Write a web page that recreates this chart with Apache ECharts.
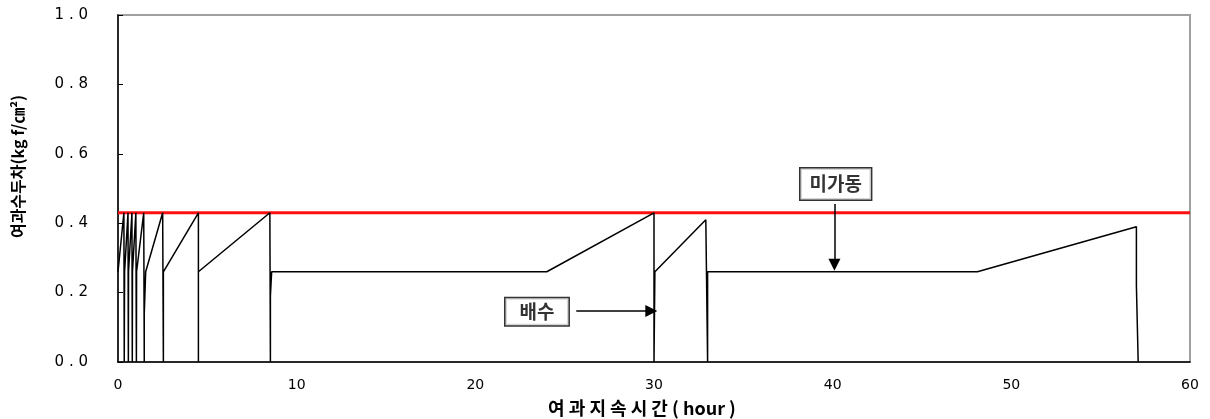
<!DOCTYPE html>
<html>
<head>
<meta charset="utf-8">
<script src="https://cdn.jsdelivr.net/npm/echarts@6/dist/echarts.min.js"></script>
<style>
html,body{margin:0;padding:0;background:#fff}
#chart{width:1210px;height:419px}
</style>
</head>
<body>
<div id="chart"></div>
<script>
// 여과지속시간(hour) / 여과수두차 측정값
var hours = [0, 0.33, 0.35, 0.35, 0.36, 0.37, 0.56, 0.58, 0.59, 0.78, 0.8, 0.81,
  1.0, 1.03, 1.04, 1.44, 1.47, 1.47, 1.55, 2.5, 2.54, 2.54, 4.5, 4.5, 4.5,
  8.5, 8.53, 8.53, 8.6, 24.0, 30.0, 30.0, 30.05, 32.9, 33.0, 33.0, 48.1,
  57.0, 57.0, 57.1, 57.1];
var head = [0.26, 0.43, 0.43, 0, 0.16, 0.26, 0.43, 0, 0.26, 0.43, 0, 0.26,
  0.43, 0, 0.26, 0.43, 0, 0.14, 0.26, 0.43, 0, 0.26, 0.43, 0, 0.26,
  0.43, 0, 0.19, 0.26, 0.26, 0.43, 0, 0.26, 0.41, 0, 0.26, 0.26,
  0.39, 0.22, 0.22, 0];

// 한계 수두차 (빨간 선)
var limitHours = [0, 60];
var limitHead = [0.43, 0.43];

// 주석
var noteNames = ['미가동', '배수'];
var noteHours = [40.17, 23.45];
var noteHead = [0.513, 0.145];
var arrowFrom = [[40.1, 0.455], [25.65, 0.147]];
var arrowTo = [[40.1, 0.28], [29.85, 0.147]];

function pairs(xs, ys) {
  return xs.map(function (x, i) { return [x, ys[i]]; });
}
function spaced(s) { return String(s).split('').join(' '); }

var chart = echarts.init(document.getElementById('chart'));

var option = {
  animation: false,
  backgroundColor: '#fff',
  grid: {
    left: 118, right: 20, top: 15, bottom: 57,
    outerBoundsMode: 'none',
    show: true, borderColor: '#a0a0a0', borderWidth: 2
  },
  xAxis: {
    type: 'value', min: 0, max: 60, interval: 10,
    name: '여 과 지 속 시 간 ( hour )',
    nameLocation: 'middle', nameGap: 37,
    nameTextStyle: { fontSize: 18, fontWeight: 'bold', color: '#000', fontFamily: 'Noto Sans CJK KR', padding: [0, 24, 0, 0] },
    axisLine: { lineStyle: { color: '#000', width: 1.5 } },
    axisTick: { show: false },
    axisLabel: { color: '#000', fontSize: 14, margin: 16, fontFamily: 'DejaVu Sans' },
    splitLine: { show: false }
  },
  yAxis: {
    type: 'value', min: 0, max: 1, interval: 0.2,
    name: '여과수두차(kg f/㎝²)',
    nameLocation: 'middle', nameGap: 92,
    nameTextStyle: { fontSize: 16, fontWeight: 'bold', color: '#000', fontFamily: 'Noto Sans CJK KR', padding: [0, 0, 0, 44] },
    axisLine: { show: true, lineStyle: { color: '#000', width: 1.5 } },
    axisTick: { show: true, inside: true, length: 5, lineStyle: { color: '#000' } },
    axisLabel: {
      color: '#000', fontSize: 15, margin: 30, fontFamily: 'DejaVu Sans',
      formatter: function (v) { return spaced(v.toFixed(1)); }
    },
    splitLine: { show: false }
  },
  series: [
    {
      type: 'line',
      data: pairs(limitHours, limitHead),
      symbol: 'none',
      lineStyle: { color: '#ff1010', width: 3 },
      z: 3
    },
    {
      type: 'line',
      data: pairs(hours, head),
      symbol: 'none',
      color: '#000',
      lineStyle: { color: '#000', width: 1.5 },
      z: 4,
      markLine: {
        silent: true,
        symbol: ['none', 'triangle'],
        symbolSize: 12,
        itemStyle: { color: '#000' },
        lineStyle: { color: '#000', width: 1.5, type: 'solid' },
        label: { show: false },
        data: arrowFrom.map(function (p, i) {
          return [{ coord: p }, { coord: arrowTo[i] }];
        })
      }
    },
    {
      type: 'scatter',
      data: noteNames.map(function (n, i) {
        return {
          name: n, value: [noteHours[i], noteHead[i]],
          label: { padding: i === 0 ? [6, 9, 6, 9] : [4, 14, 4, 14] }
        };
      }),
      symbolSize: 0,
      z: 6,
      label: {
        show: true, position: 'inside',
        formatter: '{b}',
        fontSize: 19, fontWeight: 'bold', color: '#000',
        fontFamily: 'Noto Sans CJK KR',
        backgroundColor: '#fff', borderColor: '#000', borderWidth: 1.5
      }
    }
  ]
};

chart.setOption(option);
</script>
</body>
</html>
